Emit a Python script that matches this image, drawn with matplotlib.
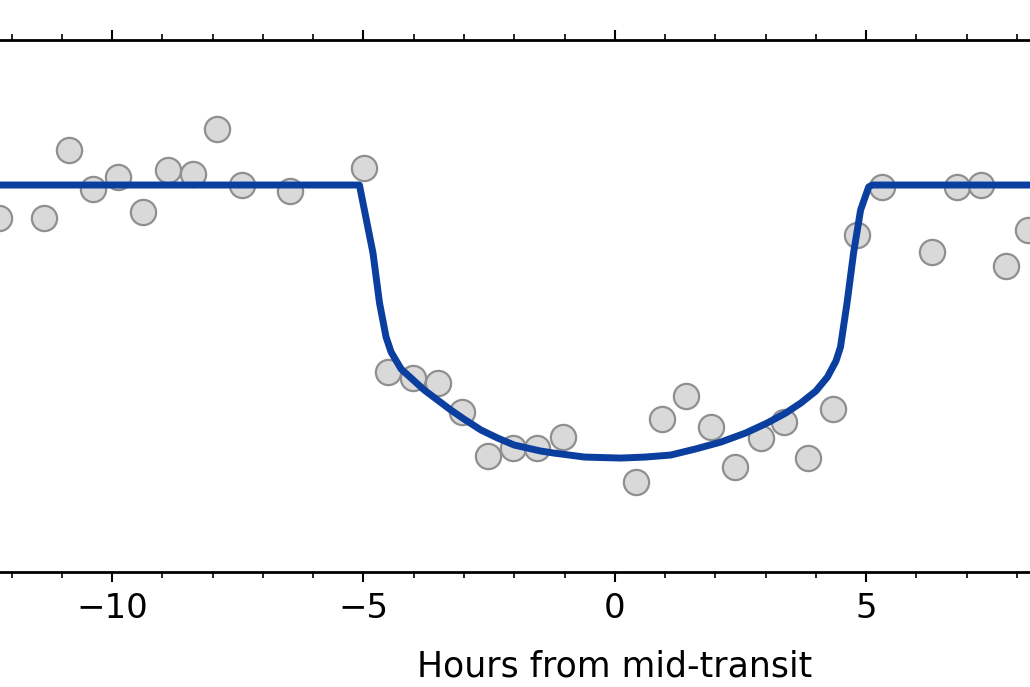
import numpy as np
import matplotlib.pyplot as plt
from matplotlib.ticker import MultipleLocator

# observed points (hours from mid-transit, relative flux)
obs_hours = [-12.24, -11.35, -10.86, -10.37, -9.88, -9.38, -8.89, -8.40, -7.91,
             -7.42, -6.46, -4.98, -4.52, -4.01, -3.51, -3.03, -2.53, -2.03,
             -1.54, -1.04, 0.43, 0.93, 1.42, 1.92, 2.40, 2.90, 3.36, 3.84,
             4.34, 4.82, 5.32, 6.31, 6.81, 7.29, 7.78, 8.23]
obs_flux = [0.99967, 0.99967, 1.00035, 0.99996, 1.00008, 0.99973, 1.00015,
            1.00011, 1.00056, 1.00000, 0.99994, 1.00017, 0.99813, 0.99807,
            0.99802, 0.99773, 0.99729, 0.99737, 0.99737, 0.99748, 0.99703,
            0.99766, 0.99789, 0.99758, 0.99718, 0.99747, 0.99763, 0.99727,
            0.99776, 0.99950, 0.99998, 0.99933, 0.99998, 1.00000, 0.99919,
            0.99955]

# model transit curve
model_hours = [-12.5, -5.08, -4.81, -4.68, -4.55, -4.45, -4.25, -3.79, -3.26,
               -3.00, -2.66, -2.33, -2.00, -1.47, -1.21, -0.60, 0.12, 0.60,
               1.11, 1.60, 2.11, 2.60, 3.03, 3.40, 3.70, 4.00, 4.23, 4.40,
               4.49, 4.62, 4.75, 4.89, 5.05, 5.12, 8.5]
model_flux = [1.0, 1.0, 0.99932, 0.99882, 0.99848, 0.99833, 0.99816, 0.99795,
              0.99775, 0.99766, 0.99755, 0.99747, 0.99740, 0.99734, 0.99732,
              0.99728, 0.99727, 0.99728, 0.99730, 0.99736, 0.99743, 0.99752,
              0.99762, 0.99772, 0.99782, 0.99794, 0.99808, 0.99824, 0.99838,
              0.99882, 0.99932, 0.99975, 0.99998, 1.0, 1.0]

xlim = (-12.23, 8.26)
ylim = (0.996135, 1.001455)

fig = plt.figure(figsize=(10.30, 6.87), dpi=100)
ax = fig.add_axes([0.0, 0.168, 1.0, 0.7745])

ax.scatter(obs_hours, obs_flux, s=330, facecolor='#d9d9d9', edgecolor='#8f8f8f',
           linewidth=1.6, zorder=2)
ax.plot(model_hours, model_flux, color='#0b3f9f', lw=5, zorder=3,
        solid_joinstyle='round')

ax.set_xlim(*xlim)
ax.set_ylim(*ylim)

for side in ['left', 'right']:
    ax.spines[side].set_visible(False)
for side in ['top', 'bottom']:
    ax.spines[side].set_linewidth(2)

ax.xaxis.set_major_locator(MultipleLocator(5))
ax.xaxis.set_minor_locator(MultipleLocator(1))
ax.tick_params(axis='x', which='major', top=True, direction='out', length=7,
               width=1.5, labelsize=24.5, pad=8)
ax.tick_params(axis='x', which='minor', top=True, direction='out', length=4,
               width=1.2)
ax.set_yticks([])

ax.set_xlabel('Hours from mid-transit', fontsize=25, va='baseline')
ax.xaxis.set_label_coords((0 - xlim[0]) / (xlim[1] - xlim[0]), -0.198)

fig.savefig('out.png', dpi=100)
